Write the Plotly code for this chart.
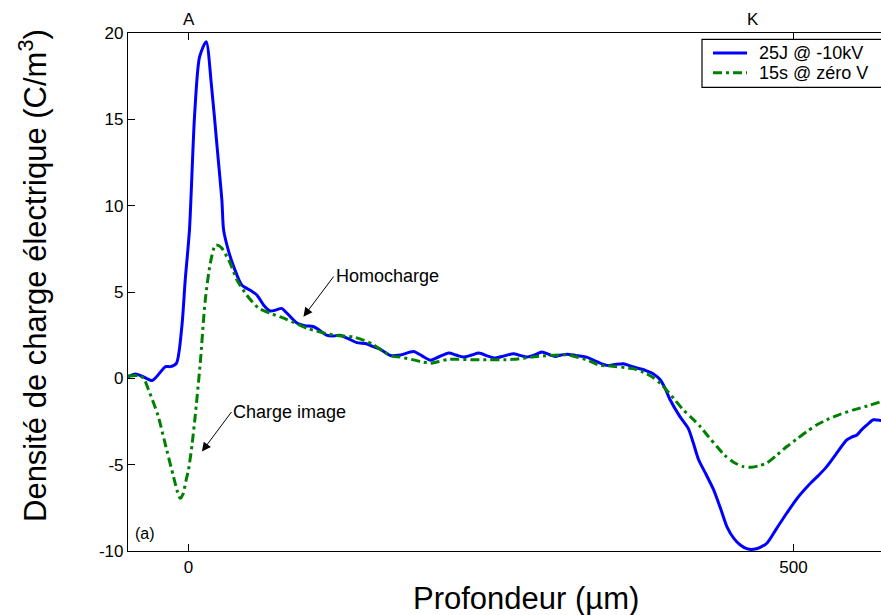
import plotly.graph_objects as go

# Blue: 25J @ -10kV
blue_x = [-50, -44, -38.5, -30, -19, -15, -10, -5.5, -2.7, 0.8, 5, 9.1, 14.6, 18.8, 23.5, 27.6, 29,
          33, 37.2, 44, 51, 56.5, 62, 67.5, 72, 77, 81, 89.6, 96, 103, 108, 114, 120, 125, 132, 139,
          147, 152, 158, 167, 175, 186, 193, 200, 207, 215, 221, 227, 234, 240, 247, 253.5, 261,
          268.6, 274, 279.7, 286, 292, 298, 303, 308, 312.7, 320, 329, 338, 346, 352, 359.5, 365,
          370.6, 378, 384, 390, 394, 398, 406, 413, 417, 421.5, 428, 434, 440, 445, 451, 456, 462,
          467, 472, 478, 486, 494.5, 503, 514, 521, 527.6, 535, 544, 548, 552.4, 556, 560.7, 566,
          572.5]
blue_y = [0.08, 0.25, 0.13, -0.13, 0.68, 0.68, 0.87, 3.0, 5.7, 8.6, 15.2, 18.6, 19.5, 17.1, 13.5,
          10.3, 8.6, 7.4, 6.5, 5.4, 5.1, 4.83, 4.25, 3.9, 3.95, 4.05, 3.8, 3.2, 3.05, 3.0, 2.8, 2.5,
          2.45, 2.5, 2.3, 2.07, 2.0, 1.85, 1.7, 1.32, 1.35, 1.55, 1.3, 1.05, 1.25, 1.47, 1.35, 1.23,
          1.35, 1.47, 1.3, 1.18, 1.3, 1.43, 1.33, 1.23, 1.35, 1.52, 1.38, 1.27, 1.35, 1.4, 1.33,
          1.23, 0.95, 0.75, 0.8, 0.85, 0.72, 0.6, 0.45, 0.27, -0.1, -0.6, -1.24, -2.2, -2.9, -3.7,
          -4.7, -5.6, -6.46, -7.6, -8.6, -9.3, -9.65, -9.88, -9.9, -9.8, -9.55, -8.7, -7.8, -6.95,
          -6.08, -5.6, -5.1, -4.4, -3.57, -3.4, -3.28, -3.0, -2.7, -2.4, -2.45]

# Green: 15s @ zéro V
green_x = [-50, -41, -37, -33, -29, -25, -18, -12.4, -9, -6.9, -4.5, -2, 0, 3, 5.5, 9.7, 13.8, 18,
           22, 24.5, 27.6, 34.5, 40, 48, 58, 67.5, 81, 98, 120, 136, 145, 153, 161, 169, 175, 186,
           192, 200, 207, 215, 241, 268.6, 288, 313, 320, 329, 340, 346, 368, 376, 384, 390, 395,
           402, 409, 416, 423, 430, 436.7, 443, 450.4, 458, 465.6, 472, 478, 486, 494.5, 503, 511,
           519, 527.6, 538, 549.6, 561, 572.5]
green_y = [0.14, 0.16, 0.0, -0.67, -1.4, -2.2, -4.15, -5.7, -6.6, -6.95, -6.7, -5.9, -5.3, -3.8,
           -2.2, 0.87, 4.5, 6.66, 7.7, 7.7, 7.53, 6.66, 5.7, 4.83, 4.06, 3.77, 3.42, 2.9, 2.5, 2.4,
           2.2, 1.94, 1.55, 1.27, 1.23, 1.07, 0.97, 0.88, 0.98, 1.1, 1.07, 1.1, 1.27, 1.36, 1.25,
           1.07, 0.75, 0.73, 0.55, 0.35, 0.05, -0.3, -0.67, -1.25, -1.83, -2.3, -2.8, -3.4, -3.95,
           -4.45, -4.86, -5.1, -5.15, -5.05, -4.9, -4.45, -3.95, -3.5, -3.08, -2.7, -2.4, -2.1,
           -1.83, -1.6, -1.35]

series_names = ["25J @ -10kV", "15s @ zéro V"]
series_colors = ["#0000ff", "#008000"]
series_dash = ["solid", "9px,4px,3px,4px"]
x_ticks = [0, 500]
y_ticks = [20, 15, 10, 5, 0, -5, -10]
y_ticktext = ["20", "15", "10", "5", "0", "-5", "-10"]
x_title = "Profondeur (µm)"
y_title = "Densité de charge électrique (C/m<sup>3</sup>)"

FONT = "Liberation Sans, Arial, sans-serif"

fig = go.Figure()
for xs, ys, nm, col, dsh in zip([blue_x, green_x], [blue_y, green_y], series_names,
                                series_colors, series_dash):
    fig.add_trace(go.Scatter(x=xs, y=ys, mode="lines", name=nm, showlegend=False,
                             line=dict(color=col, width=3, dash=dsh, shape="spline",
                                       smoothing=0.7)))

axis_common = dict(showgrid=False, zeroline=False, showline=True, linecolor="black", linewidth=1.2,
                   ticks="inside", ticklen=7, tickwidth=1, tickcolor="black",
                   tickfont=dict(family=FONT, size=17, color="black"))

fig.update_xaxes(range=[-50, 572.3], tickvals=x_ticks, mirror="ticks", **axis_common)
fig.update_yaxes(range=[-10, 20], tickvals=y_ticks, ticktext=y_ticktext, mirror=False,
                 **axis_common)

# pixel -> paper helpers (plot area: x 128..881, y 33..551)
def px(xp):
    return (xp - 128) / 753

def py(yp):
    return (551 - yp) / 518

annos = [
    dict(x=0, y=py(19.5), xref="x", yref="paper", text="A", showarrow=False,
         font=dict(family=FONT, size=17, color="black"), xanchor="center", yanchor="middle"),
    dict(x=466.7, y=py(19.5), xref="x", yref="paper", text="K", showarrow=False,
         font=dict(family=FONT, size=17, color="black"), xanchor="center", yanchor="middle"),
    dict(x=95.0, y=3.57, ax=120.0, ay=5.9, xref="x", yref="y", axref="x", ayref="y",
         text="Homocharge", showarrow=True, arrowhead=2, arrowsize=1.8, arrowwidth=1,
         arrowcolor="black", xanchor="left", yanchor="middle",
         font=dict(family=FONT, size=18, color="black")),
    dict(x=11.1, y=-4.24, ax=35.5, ay=-1.95, xref="x", yref="y", axref="x", ayref="y",
         text="Charge image", showarrow=True, arrowhead=2, arrowsize=1.8, arrowwidth=1,
         arrowcolor="black", xanchor="left", yanchor="middle",
         font=dict(family=FONT, size=18, color="black")),
    dict(x=px(133), y=py(533), xref="paper", yref="paper", text="(a)", showarrow=False,
         font=dict(family=FONT, size=16, color="black"), xanchor="left", yanchor="middle"),
    dict(x=px(33), y=py(276), xref="paper", yref="paper", text=y_title,
         showarrow=False, textangle=-90, font=dict(family=FONT, size=31, color="black"),
         xanchor="center", yanchor="middle"),
    dict(x=px(526), y=py(598), xref="paper", yref="paper",
         text=x_title, showarrow=False, font=dict(family=FONT, size=31, color="black"),
         xanchor="center", yanchor="middle"),
]

# manual legend (box runs off the right edge as in the reference)
shapes = [dict(type="rect", xref="paper", yref="paper", x0=px(702), x1=px(900),
               y0=py(87.3), y1=py(39.3), line=dict(color="black", width=1.2),
               fillcolor="white", layer="above")]
row_y = [53, 72.7]
for nm, col, dsh, ry in zip(series_names, series_colors, series_dash, row_y):
    shapes.append(dict(type="line", xref="paper", yref="paper", x0=px(713), x1=px(747),
                       y0=py(ry), y1=py(ry), line=dict(color=col, width=3, dash=dsh),
                       layer="above"))
    annos.append(dict(x=px(757), y=py(ry), xref="paper", yref="paper", text=nm,
                      showarrow=False, font=dict(family=FONT, size=18, color="black"),
                      xanchor="left", yanchor="middle"))

fig.update_layout(
    width=881, height=615,
    margin=dict(l=128, r=0, t=33, b=64, autoexpand=False),
    plot_bgcolor="white", paper_bgcolor="white",
    font=dict(family=FONT, color="black"),
    showlegend=False,
    annotations=annos,
    shapes=shapes,
)

fig.write_html("out.html", config={"displayModeBar": False},
               post_script="document.body.style.margin='0';document.body.style.overflow='hidden';")
